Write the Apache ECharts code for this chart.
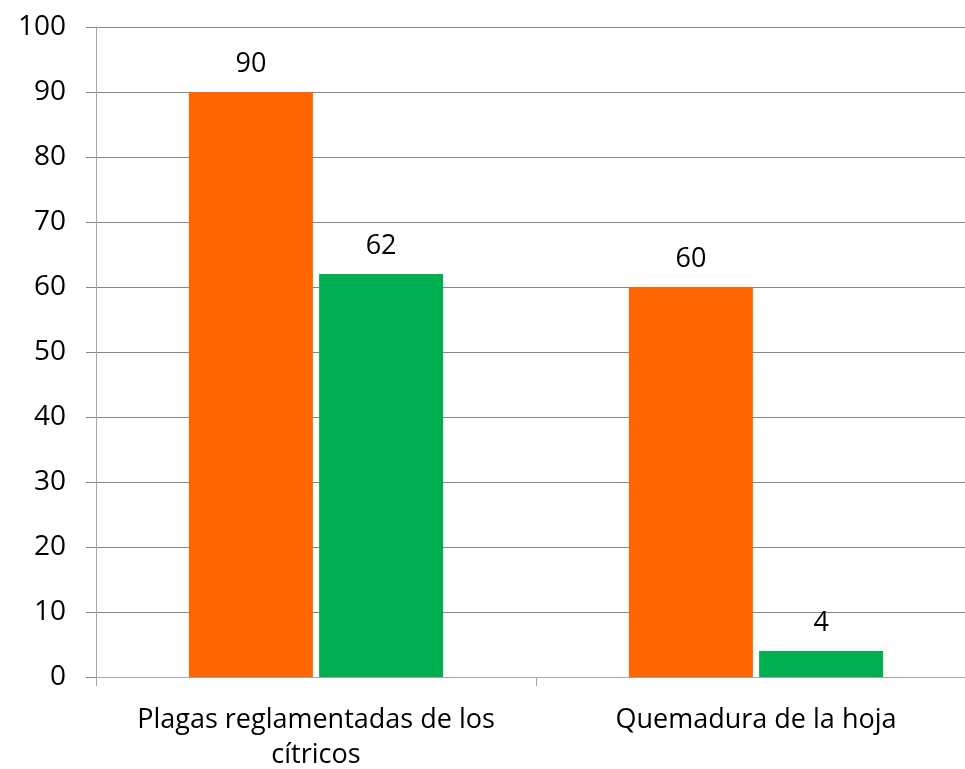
<!DOCTYPE html>
<html>
<head>
<meta charset="utf-8">
<script src="https://cdn.jsdelivr.net/npm/echarts@6/dist/echarts.min.js"></script>
<style>
  html, body { margin: 0; padding: 0; background: #fff; }
  #chart { width: 965px; height: 769px; }
</style>
</head>
<body>
<div id="chart"></div>
<script>
const categories = ['Plagas reglamentadas de los\ncítricos', 'Quemadura de la hoja']
const seriesA = [90, 60]
const seriesB = [62, 4]
const yTicks = { min: 0, max: 100, interval: 10 }

const chart = echarts.init(document.getElementById('chart'))
const font = '"Open Sans", "Noto Sans", sans-serif'

chart.setOption({
  animation: false,
  textStyle: { fontFamily: font },
  grid: { left: 96, top: 27, width: 880, height: 650, containLabel: false, outerBoundsMode: 'none' },
  xAxis: {
    type: 'category',
    data: categories,
    axisLine: { lineStyle: { color: '#a6a6a6', width: 1 } },
    axisTick: { show: true, interval: 0, length: 9, lineStyle: { color: '#a6a6a6' } },
    axisLabel: {
      color: '#000',
      interval: 0,
      hideOverlap: false,
      fontSize: 27,
      lineHeight: 35,
      margin: 26,
      fontFamily: font
    }
  },
  yAxis: {
    type: 'value',
    min: yTicks.min,
    max: yTicks.max,
    interval: yTicks.interval,
    axisLine: { show: true, lineStyle: { color: '#a6a6a6' } },
    axisTick: { show: true, length: 10, lineStyle: { color: '#868686' } },
    splitLine: { lineStyle: { color: '#868686', width: 1 } },
    axisLabel: { color: '#000', fontSize: 28, margin: 30, fontFamily: font }
  },
  series: [
    {
      type: 'bar',
      data: seriesA,
      barWidth: 124,
      barGap: '5%',
      itemStyle: { color: '#ff6600' },
      label: { show: true, position: 'top', distance: 14, color: '#000', fontSize: 27, fontFamily: font }
    },
    {
      type: 'bar',
      data: seriesB,
      barWidth: 124,
      itemStyle: { color: '#00b050' },
      label: { show: true, position: 'top', distance: 14, color: '#000', fontSize: 27, fontFamily: font }
    }
  ]
})
</script>
</body>
</html>
